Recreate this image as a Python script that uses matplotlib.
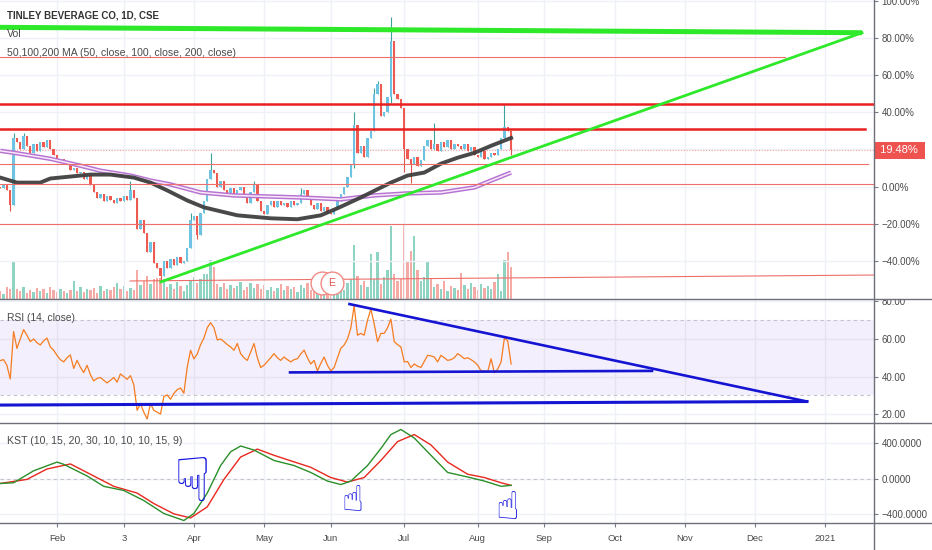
import numpy as np
import matplotlib
matplotlib.use("Agg")
import matplotlib.pyplot as plt
import matplotlib.transforms as mtransforms
from matplotlib.lines import Line2D
from matplotlib.patches import Rectangle

plt.rcParams['font.family'] = ['Liberation Sans', 'DejaVu Sans']

# ---------------- data (daily bars from 2020-01-09, % change) ----------------
START = '2020-01-09'
HOLIDAYS = ['2020-02-17', '2020-04-10', '2020-05-18', '2020-07-01', '2020-08-03',
            '2020-09-07', '2020-10-12', '2020-12-25', '2020-12-28', '2021-01-01']
tick_dates = ['2020-02-03', '2020-03-03', '2020-04-01', '2020-05-01', '2020-06-01', '2020-07-02',
              '2020-08-04', '2020-09-01', '2020-10-01', '2020-11-02', '2020-12-01', '2021-01-04']
tick_labels = ['Feb', '3', 'Apr', 'May', 'Jun', 'Jul', 'Aug', 'Sep', 'Oct', 'Nov', 'Dec', '2021']

closes = [-1, 1, -2, -10, 26,
          24, 20, 27, 22, 18, 23, 19, 24, 21, 25, 20,
          17, 14, 15, 12, 13, 9, 10,
          7, 8, 4, 6, 1,
          -3, -6, -4, -8, -5, -7, -9, -6, -8, -5, -7,
          -2, -6,
          -23, -18, -25, -35, -30, -41, -44, -48, -40, -44, -39, -42, -38, -41, -40,
          -33, -18, -16, -26, -14, -8,
          4, 9, 7, 0, 3, -2, -4, -1, -5, -2, 0, -4,
          -9, -3, 1, -8, -13, -15, -10, -8, -11, -8, -10, -9, -11, -8, -10, -9,
          -4, -2, -5, -10, -12, -9, -13, -11, -14, -15, -12,
          -8, -4, 0, 5, 12,
          33, 18, 22, 16, 26, 30, 50, 55, 38, 40, 48,
          78, 50, 47, 42,
          20, 15, 12, 16, 11, 14, 22, 25, 20,
          23, 19, 24, 21, 25, 20, 23, 22, 20, 23, 19, 21,
          17, 16, 19, 15, 16, 18, 17, 20,
          26, 32, 30, 19.48]
high_bars = [4, 7, 39, 57, 63, 76, 90, 106, 112, 113, 117, 130, 151]
high_vals = [29, 29, 3, -14, 18, 3, -1, 40, 53, 57, 91, 34, 44]
low_bars = [3, 48, 59, 106, 117, 121, 123, 153]
low_vals = [-13, -51, -28, 10, 45, 8, 2, 17]

volume = [8, 5, 12, 10, 36,
          10, 8, 12, 6, 9, 7, 11, 8, 10, 6, 12, 9, 7, 10, 8, 6,
          9, 18,
          8, 12, 7, 10, 9, 11, 6, 13, 8, 10, 9, 12,
          16, 10, 13, 8, 11, 9,
          28, 14, 18, 23, 15, 20, 21, 21,
          20, 12, 15, 10, 17, 13, 8,
          14, 18, 22, 16, 20, 25,
          25, 38, 31, 15, 12, 16, 10, 14, 11,
          13, 17, 9, 12, 16, 11, 15, 10, 14, 9, 12, 8, 11, 15, 9, 13, 10, 12, 7, 14,
          11, 16, 9, 12, 10, 13, 8, 11, 14, 12,
          10, 12, 9, 16, 20,
          53, 23, 14, 18, 12, 44, 20, 46, 15, 22, 28,
          72, 25, 18, 20,
          74, 37, 47, 62, 28, 18, 22, 36,
          21, 12, 15, 10, 18, 8, 13, 11, 9,
          26, 14, 10, 16, 12, 9, 15, 11, 13, 10,
          17, 25, 8, 38, 46, 31]

ma_black_bars = [0, 5, 12, 15, 27, 33, 40, 45, 50, 56, 61, 71, 81, 89, 96, 101,
                 108, 117, 122, 127, 132, 137, 142, 147, 153]
ma_black_vals = [4.8, 2.1, 2.1, 4.3, 6.4, 6.4, 4.8, 2.1, -2.1, -7.5, -11.2, -15.5, -17.1,
                 -17.6, -15.5, -11.7, -5.9, 2.1, 5.9, 7.5, 12.3, 15.5, 18.1, 21.9, 26.1]
ma_purple_bars = [0, 6, 15, 24, 30, 39, 45, 51, 60, 70, 90, 102, 112, 122, 132, 142, 147, 153]
ma_purple_vals = [19.2, 17.6, 14.9, 11.2, 8.5, 5.9, 3.2, 1.1, -3.2, -4.8, -5.9, -6.9,
                  -4.8, -3.7, -3.2, -0.5, 3.2, 7.5]

rsi = [48.5, 49, 46, 38.7, 64, 55, 60, 65, 62, 58.6, 60, 58, 56.8, 59, 60.5, 55.8,
       54, 51.3, 49, 47.8, 50, 51.5, 44.3, 48.6, 45, 42.1, 46, 41, 37.7, 39, 39.5,
       38, 36.6, 38, 39.5, 37, 41.4, 40, 38.5, 40.5, 35.7, 22, 25.6, 21, 17.4, 25.6,
       22, 21, 20, 29.3, 30.2, 27.9, 31, 33, 33.9, 31.1, 45, 54, 49.4, 52, 57, 60.5,
       66, 68.7, 66, 59.5, 60, 58.6, 57, 55.8, 54, 57.6, 52.2, 50, 48.6, 53, 57.6,
       50, 44.8, 46, 48, 50, 52.2, 50, 48.6, 50.4, 49, 47.8, 49, 49.5, 52, 54.1,
       50, 46.7, 48.6, 43, 47, 50.4, 46, 43, 44.8, 50, 55, 56.8, 60, 65.8, 77.8,
       62, 63, 62, 70, 76, 68, 58.6, 63, 63, 66, 70.6, 58.6, 57, 55.8, 47.8, 48,
       44.8, 46.7, 45.5, 44.8, 48, 51.3, 51, 50.4, 47.8, 51.3, 50, 48.6, 49, 50,
       52.2, 51, 49.5, 50, 49, 47.8, 46, 43, 43, 42.6, 49.5, 42, 44, 47.8, 60.5,
       59, 46.7]

kst_bars = [0, 4, 10, 17, 19, 26, 31, 37, 43, 49, 55, 58, 62, 66, 69, 72, 76, 82, 88,
            93, 98, 102, 105, 110, 114, 117, 120, 124, 129, 134, 140, 145, 150, 153]
kst_vals = [-56, -48, 87, 185, 160, 29, -88, -135, -248, -394, -473, -394, -164, 146,
            301, 366, 320, 203, 146, 68, -29, -68, -29, 146, 338, 495, 552, 456, 261,
            68, 17, -29, -88, -77]
sig_bars = [0, 8, 14, 21, 27, 34, 41, 46, 52, 57, 62, 67, 72, 77, 82, 93, 99, 104,
            109, 114, 119, 124, 129, 134, 140, 145, 150, 153]
sig_vals = [-56, -10, 107, 164, 48, -88, -164, -282, -398, -444, -320, -10, 242, 331,
            261, 126, 11, -40, 11, 203, 416, 495, 378, 185, 48, 11, -48, -77]

# drawings: (bar, value) anchor pairs
green_top = [(-0.1, 85.6), (258.1, 82.7)]
green_rise = [(48.1, -51.3), (258.1, 82.7)]
red_thick = [[(-0.1, 44.4), (262, 44.4)], [(-0.1, 30.9), (259, 30.9)]]
red_thin = [[(-0.1, 69.6), (235, 69.6)], [(-0.1, 12.1), (260, 12.1)],
            [(-0.1, 1.3), (262, 1.3)], [(-0.1, -19.9), (262, -19.9)],
            [(38.9, -50.8), (262, -47.6)]]
rsi_lines = [[(104.6, 78.6), (241.6, 26.7)], [(-0.1, 24.8), (241.6, 26.7)],
             [(86.8, 42.2), (195.2, 43.0)]]
earnings_bars = [96.3, 99.3]

# ---------------- layout ----------------
W, H = 932, 550
PX_PER_BAR = 3.339
X0_PX = 0.23
AXIS_PX = 874
TXT = '#4a4a4a'
GRID = '#eff1f6'


def fy(px):
    return 1 - px / H


fig = plt.figure(figsize=(W / 100, H / 100), dpi=100)
ax = fig.add_axes([0, fy(299), AXIS_PX / W, 299 / H])
ax_rsi = fig.add_axes([0, fy(423), AXIS_PX / W, 124 / H], sharex=ax)
ax_kst = fig.add_axes([0, fy(523), AXIS_PX / W, 100 / H], sharex=ax)

# volume in its own scale, behind the candles (twinx first, it moves ticks to the left)
vol_ax = ax.twinx()
vol_ax.set_zorder(ax.get_zorder() - 1)
ax.patch.set_visible(False)
vol_ax.axis('off')

tick_pos = np.busday_count(START, tick_dates, holidays=HOLIDAYS)

for a in (ax, ax_rsi, ax_kst):
    for s in a.spines.values():
        s.set_visible(False)
    a.yaxis.tick_right()
    a.yaxis.set_label_position('right')
    a.tick_params(axis='y', labelsize=7, colors=TXT, length=3, width=0.8, pad=2.5,
                  color='#787b86', labelleft=False, labelright=True, left=False, right=True)
    a.grid(True, color=GRID, lw=1)
    a.set_axisbelow(True)
ax.tick_params(axis='x', length=0, labelbottom=False)
ax_rsi.tick_params(axis='x', length=0, labelbottom=False)
ax_kst.tick_params(axis='x', labelsize=6.8, colors=TXT, length=3, color='#787b86', pad=5)
ax_kst.set_xticks(tick_pos)
ax_kst.set_xticklabels(tick_labels)
ax.set_xlim(-X0_PX / PX_PER_BAR, (AXIS_PX - X0_PX) / PX_PER_BAR)

# ---------------- main price panel ----------------
ax.set_ylim(-60.5, 100.3)
main_ticks = [100, 80, 60, 40, 20, 0, -20, -40]
ax.set_yticks(main_ticks)
# the 20% label sits under the last-price box
ax.set_yticklabels(['' if v == 20 else f'{v:.2f}%'.replace('-', '\u2212') for v in main_ticks])

idx = np.arange(len(closes))
c = np.array(closes, dtype=float)
o = np.r_[0.0, c[:-1]]
hi = np.maximum(o, c)
lo = np.minimum(o, c)
for b, v in zip(high_bars, high_vals):
    hi[b] = max(hi[b], v)
for b, v in zip(low_bars, low_vals):
    lo[b] = min(lo[b], v)
up = c >= o

vol_ax.bar(idx, volume, width=0.7, color=np.where(up, '#8fd3c3', '#f6aaa5'), linewidth=0)
vol_ax.set_ylim(0, max(volume) / 0.252)

ax.vlines(idx, lo, hi, colors=np.where(up, '#3aa39a', '#e0574f'), lw=0.8, zorder=3)
ax.bar(idx, np.maximum(np.abs(c - o), 0.6), bottom=np.minimum(o, c), width=0.7,
       color=np.where(up, '#6ec3e2', '#ee5a4f'), linewidth=0, zorder=3.1)

ax.plot(ma_purple_bars, ma_purple_vals, color='#b673d2', lw=3.2, zorder=4, solid_capstyle='butt')
ax.plot(ma_purple_bars, ma_purple_vals, color='#f8e8f8', lw=1.1, zorder=4.1)
ax.plot(ma_black_bars, ma_black_vals, color='#3f3f3f', lw=2.8, zorder=4.2, alpha=0.95)

ax.axhline(closes[-1], color='#ef5350', lw=0.8, ls=(0, (1, 1.5)), alpha=0.55, zorder=2)
for (x0, y0), (x1, y1) in red_thin:
    ax.plot([x0, x1], [y0, y1], color='#ee6f6a', lw=0.8, zorder=5)
for (x0, y0), (x1, y1) in red_thick:
    ax.plot([x0, x1], [y0, y1], color='#ea2020', lw=1.8, zorder=5)
ax.plot(*zip(*green_top), color='#2ee82a', lw=3.6, zorder=6, solid_capstyle='butt')
ax.plot(*zip(*green_rise), color='#2ee82a', lw=2.0, zorder=6)

ax.scatter(earnings_bars, [-52, -52], s=270, facecolor='white', edgecolor='#f08a84',
           lw=1, zorder=7)
ax.text(earnings_bars[-1], -52, 'E', color='#e0524f', fontsize=7.5, ha='center',
        va='center', zorder=8)

trans = mtransforms.blended_transform_factory(ax.transAxes, ax.transData)
ax.text(1.004, closes[-1], f' {closes[-1]:.2f}% ', transform=trans, ha='left', va='center',
        color='white', fontsize=8, zorder=10, clip_on=False,
        bbox=dict(boxstyle='square,pad=0.3', fc='#ef5350', ec='none'))

fig.text(7 / W, fy(15), 'TINLEY BEVERAGE CO, 1D, CSE', fontsize=7, color='#333333',
         weight='bold', va='center')
fig.text(7 / W, fy(34), 'Vol', fontsize=7.6, color=TXT, va='center')
fig.text(7 / W, fy(53), '50,100,200 MA (50, close, 100, close, 200, close)', fontsize=7.6,
         color=TXT, va='center')

# ---------------- RSI panel ----------------
ax_rsi.set_ylim(15.25, 81.3)
ax_rsi.set_yticks([80, 60, 40, 20])
ax_rsi.set_yticklabels(['80.00', '60.00', '40.00', '20.00'])
ax_rsi.axhspan(30, 70, color='#9c6ee8', alpha=0.11, lw=0)
for lvl in (70, 30):
    ax_rsi.axhline(lvl, color='#c4c4cc', lw=0.8, ls=(0, (3, 3)))
ax_rsi.plot(idx, rsi, color='#f57c1f', lw=0.9, zorder=4)
for i, ((x0, y0), (x1, y1)) in enumerate(rsi_lines):
    ax_rsi.plot([x0, x1], [y0, y1], color='#1414d2', lw=2.2 if i == 1 else 1.9, zorder=5)
fig.text(7 / W, fy(318), 'RSI (14, close)', fontsize=7.4, color=TXT, va='center')

# ---------------- KST panel ----------------
ax_kst.set_ylim(-501, 625)
ax_kst.set_yticks([400, 0, -400])
ax_kst.set_yticklabels(['400.0000', '0.0000', '\u2212400.0000'])
ax_kst.axhline(0, color='#c4c4cc', lw=0.8, ls=(0, (3, 3)))
ax_kst.plot(sig_bars, sig_vals, color='#e8281e', lw=1.0, zorder=4)
ax_kst.plot(kst_bars, kst_vals, color='#2a8f2a', lw=1.0, zorder=4)
ax_kst.text(57.4, -70, '\u261f', fontsize=44, color='#1717e0', ha='center', va='center',
            family='DejaVu Sans', zorder=6)
ax_kst.text(105.6, -250, '\u261d', fontsize=26, color='#1717e0', ha='center', va='center',
            family='DejaVu Sans', zorder=6)
ax_kst.text(151.8, -330, '\u261d', fontsize=28, color='#1717e0', ha='center', va='center',
            family='DejaVu Sans', zorder=6)
fig.text(7 / W, fy(441), 'KST (10, 15, 20, 30, 10, 10, 10, 15, 9)', fontsize=7.6,
         color=TXT, va='center')

# ---------------- separators ----------------
fig.add_artist(Rectangle((AXIS_PX / W + 0.001, fy(299)), 1, 8 / H, transform=fig.transFigure,
                         fc='white', ec='none', zorder=5))
for ypx in (299, 423, 523):
    fig.add_artist(Line2D([0, 1], [fy(ypx), fy(ypx)], color='#6e7079', lw=1, zorder=6))
fig.add_artist(Line2D([AXIS_PX / W] * 2, [0, 1], color='#6e7079', lw=1, zorder=6))

fig.savefig('out.png', dpi=100, facecolor='white')
